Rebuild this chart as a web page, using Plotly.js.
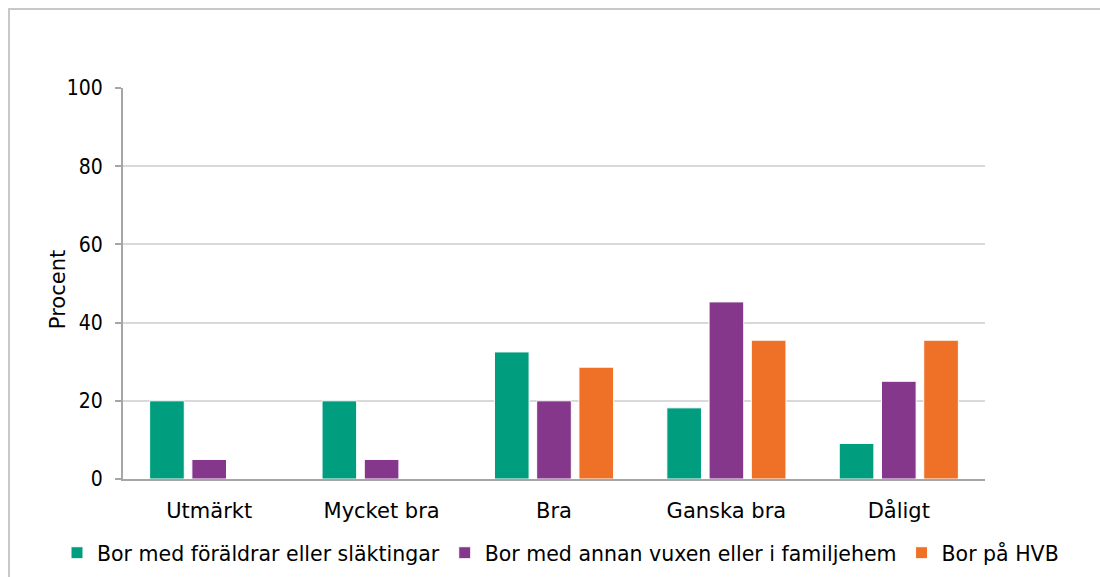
<!DOCTYPE html>
<html>
<head>
<meta charset="utf-8">
<script src="https://cdn.plot.ly/plotly-3.0.1.min.js"></script>
<style>
html,body{margin:0;padding:0;background:#fff;}
#wrap{position:relative;width:1100px;height:577px;}
#frame{position:absolute;left:8px;top:8px;right:0;bottom:0;border-top:2px solid #c8c8c8;border-left:2px solid #c8c8c8;pointer-events:none;}
#chart{position:absolute;left:0;top:0;width:1100px;height:577px;}
</style>
</head>
<body>
<div id="wrap"><div id="chart"></div><div id="frame"></div></div>
<script>
const categories = ["Utmärkt", "Mycket bra", "Bra", "Ganska bra", "Dåligt"];
const seriesNames = ["Bor med föräldrar eller släktingar", "Bor med annan vuxen eller i familjehem", "Bor på HVB"];
const foraldrar = [20, 20, 32.5, 18.2, 9.1];
const familjehem = [5, 5, 20, 45.3, 25];
const hvb = [0, 0, 28.6, 35.5, 35.5];
const colors = ["#009E7E", "#84378B", "#EE7127"];
const yTicks = [0, 20, 40, 60, 80, 100];
const yTitle = "Procent";

const font = "DejaVu Sans, sans-serif";
const numFont = "DejaVu Sans Condensed, DejaVu Sans, sans-serif";
const fs = 21;
const seriesValues = [foraldrar, familjehem, hvb];
const data = seriesValues.map((vals, i) => ({
  type: "bar",
  name: seriesNames[i],
  x: categories,
  y: vals,
  marker: {color: colors[i], line: {color: "#ffffff", width: 1}},
  hoverinfo: "x+y+name"
}));

// plot frame: left 123, right edge at 985 (in a 957 px wide paper area)
const L = 123, R = 20, PW = 1100 - L - R, PLOT_W = 862;
const px = v => (v - L) / PW;

const layout = {
  width: 1100, height: 577,
  margin: {l: L, r: R, t: 88, b: 98, autoexpand: false},
  paper_bgcolor: "#ffffff", plot_bgcolor: "#ffffff",
  font: {family: font, size: fs, color: "#000000"},
  barmode: "group",
  bargap: 0.265,
  bargroupgap: 0.18,
  showlegend: true,
  legend: {
    orientation: "h", x: px(57), xanchor: "left", y: -0.189, yanchor: "middle",
    font: {family: font, size: 20.5, color: "#000"},
    itemwidth: 30, tracegroupgap: 0, traceorder: "normal"
  },
  xaxis: {
    type: "category",
    domain: [0, PLOT_W / PW],
    showline: true, linecolor: "#a6a6a6", linewidth: 2,
    ticks: "", ticklabelstandoff: 12,
    tickfont: {family: font, size: fs, color: "#000"},
    showgrid: false, zeroline: false
  },
  yaxis: {
    range: [0, 100],
    tickvals: yTicks,
    ticktext: yTicks.map(String),
    showline: true, linecolor: "#a6a6a6", linewidth: 2,
    ticks: "outside", ticklen: 6, tickcolor: "#a6a6a6", tickwidth: 2,
    ticklabelstandoff: 8,
    showgrid: true, gridcolor: "#d9d9d9", gridwidth: 2,
    zeroline: false,
    tickfont: {family: numFont, size: fs, color: "#000"}
  },
  annotations: [{
    text: yTitle, xref: "paper", yref: "paper",
    x: px(58), y: 0.483, xanchor: "center", yanchor: "middle",
    textangle: -90, showarrow: false,
    font: {family: font, size: fs, color: "#000"}
  }]
};

Plotly.newPlot("chart", data, layout, {displayModeBar: false, responsive: false});
</script>
</body>
</html>
